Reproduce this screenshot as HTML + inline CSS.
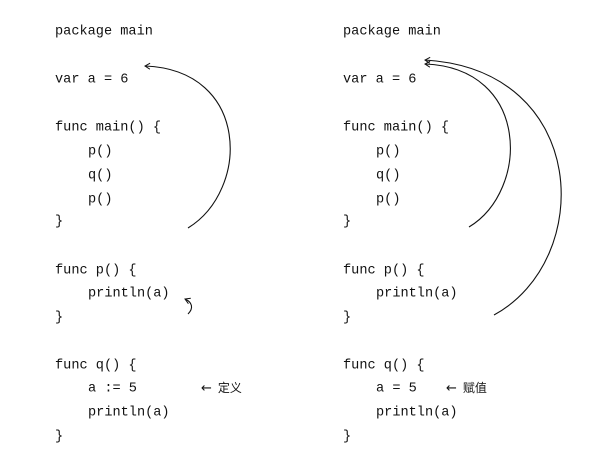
<!DOCTYPE html>
<html><head><meta charset="utf-8"><style>
html,body{margin:0;padding:0;background:#fff;}
svg{display:block}
.c{font-family:"Liberation Mono",monospace;font-size:13.6px;fill:#111;}
.n{font-family:"Liberation Sans","Noto Sans CJK SC",sans-serif;font-size:12px;fill:#111;}
.ar{font-family:"DejaVu Sans",sans-serif;font-size:13px;}
</style></head><body>
<svg width="594" height="468" viewBox="0 0 594 468" xmlns="http://www.w3.org/2000/svg">
<defs><marker id="a" markerWidth="8" markerHeight="8" refX="6" refY="4" orient="auto" markerUnits="userSpaceOnUse">
<path d="M1,1 L6,4 L1,7" fill="none" stroke="#111" stroke-width="1"/></marker></defs>
<g class="c" dominant-baseline="central" transform="translate(0,2)">
<text x="55" y="30">package main</text>
<text x="55" y="78">var a = 6</text>
<text x="55" y="126">func main() {</text>
<text x="88" y="150">p()</text>
<text x="88" y="174">q()</text>
<text x="88" y="198">p()</text>
<text x="55" y="220">}</text>
<text x="55" y="269">func p() {</text>
<text x="88" y="292">println(a)</text>
<text x="55" y="316">}</text>
<text x="55" y="364">func q() {</text>
<text x="88" y="387">a := 5</text>
<text x="88" y="411">println(a)</text>
<text x="55" y="435">}</text>

<text x="343" y="30">package main</text>
<text x="343" y="78">var a = 6</text>
<text x="343" y="126">func main() {</text>
<text x="376" y="150">p()</text>
<text x="376" y="174">q()</text>
<text x="376" y="198">p()</text>
<text x="343" y="220">}</text>
<text x="343" y="269">func p() {</text>
<text x="376" y="292">println(a)</text>
<text x="343" y="316">}</text>
<text x="343" y="364">func q() {</text>
<text x="376" y="387">a = 5</text>
<text x="376" y="411">println(a)</text>
<text x="343" y="435">}</text>
</g>
<g class="n" dominant-baseline="central">
<text x="201" y="388"><tspan class="ar">←</tspan><tspan dx="6">定义</tspan></text>
<text x="446" y="388"><tspan class="ar">←</tspan><tspan dx="6">赋值</tspan></text>
</g>
<g fill="none" stroke="#111" stroke-width="1.1">
<path d="M188,228 C250,190 250,70 145,66" marker-end="url(#a)"/>
<path d="M469,227 C530,190 530,68 425,64" marker-end="url(#a)"/>
<path d="M494,315 C595,260 590,70 425,60" marker-end="url(#a)"/>
<path d="M188,314 C194,308 192,302 185,299" marker-end="url(#a)"/>
</g>
</svg>
</body></html>
